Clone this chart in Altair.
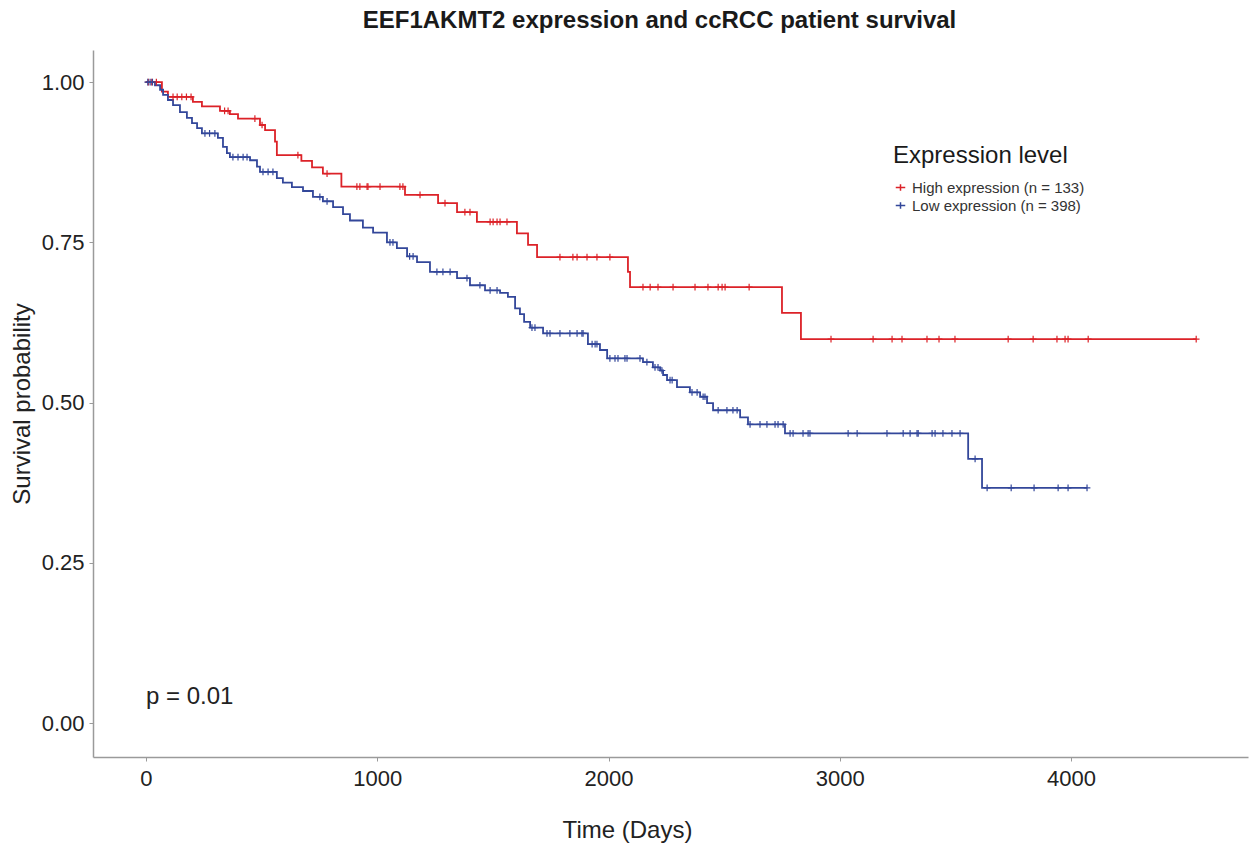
import altair as alt
import pandas as pd

HIGH = "High expression (n = 133)"
LOW = "Low expression (n = 398)"
RED = "#DC2228"
BLUE = "#33479A"
FONT = "Liberation Sans"

# Kaplan-Meier steps: (day of event, survival after event)
high_event_days = [69, 95, 203, 242, 320, 363, 398, 493, 515, 558, 566, 672, 718, 765, 845,
                   1120, 1263, 1345, 1431, 1604, 1652, 1691, 2084, 2093, 2750, 2832]
high_event_surv = [0.985, 0.977, 0.969, 0.962, 0.955, 0.950, 0.943, 0.933, 0.925, 0.907, 0.886,
                   0.877, 0.867, 0.857, 0.837, 0.824, 0.811, 0.797, 0.782, 0.764, 0.746, 0.727,
                   0.704, 0.680, 0.640, 0.599]
high_end_day = 4541
high_censor_days = [10, 25, 45, 117, 135, 155, 175, 195, 340, 355, 471, 502, 657, 783, 912, 925,
                    956, 960, 1012, 1098, 1111, 1185, 1293, 1379, 1401, 1488, 1501, 1518, 1531,
                    1561, 1790, 1846, 1864, 1907, 1950, 2006, 2149, 2180, 2214, 2279, 2374, 2430,
                    2474, 2491, 2504, 2608, 2962, 3144, 3226, 3269, 3377, 3429, 3498, 3728, 3836,
                    3939, 3974, 3987, 4074, 4541]

low_event_days = [39, 61, 74, 95, 117, 147, 177, 199, 221, 242, 311, 333, 350, 363, 450, 480,
                  493, 566, 592, 631, 679, 722, 765, 809, 852, 882, 938, 982, 1042, 1085, 1129,
                  1172, 1228, 1345, 1401, 1466, 1531, 1565, 1596, 1617, 1635, 1661, 1717, 1911,
                  1963, 1994, 2149, 2192, 2223, 2236, 2253, 2296, 2352, 2396, 2426, 2452, 2569,
                  2603, 2763, 3555, 3615]
low_event_surv = [0.995, 0.988, 0.980, 0.972, 0.964, 0.953, 0.944, 0.936, 0.928, 0.920, 0.913,
                  0.899, 0.889, 0.883, 0.878, 0.868, 0.860, 0.850, 0.843, 0.836, 0.830, 0.821,
                  0.814, 0.805, 0.794, 0.784, 0.773, 0.765, 0.750, 0.741, 0.728, 0.719, 0.704,
                  0.694, 0.683, 0.675, 0.671, 0.665, 0.647, 0.638, 0.626, 0.617, 0.608, 0.591,
                  0.582, 0.569, 0.563, 0.555, 0.550, 0.543, 0.535, 0.524, 0.516, 0.509, 0.499,
                  0.488, 0.477, 0.466, 0.452, 0.412, 0.367]
low_end_day = 4069
low_censor_days = [8, 18, 28, 255, 275, 298, 376, 398, 420, 437, 506, 528, 549, 752, 783, 1055,
                   1068, 1140, 1155, 1258, 1284, 1315, 1388, 1444, 1488, 1518, 1669, 1682, 1734,
                   1747, 1790, 1833, 1864, 1885, 1890, 1929, 1942, 1950, 2006, 2028, 2041, 2071,
                   2080, 2136, 2166, 2201, 2214, 2231, 2266, 2275, 2361, 2383, 2409, 2417, 2474,
                   2512, 2538, 2556, 2612, 2655, 2685, 2720, 2733, 2755, 2785, 2798, 2841, 2863,
                   2871, 3036, 3075, 3204, 3274, 3304, 3334, 3339, 3399, 3412, 3446, 3485, 3520,
                   3585, 3637, 3741, 3840, 3944, 3987, 4069]

x_ticks = [0, 1000, 2000, 3000, 4000]
y_ticks = [0.0, 0.25, 0.5, 0.75, 1.0]


def surv_at(t, days, surv):
    s = 1.0
    for d, v in zip(days, surv):
        if d <= t:
            s = v
    return s


def curve(name, days, surv, end):
    rows = [{"group": name, "time": 0, "surv": 1.0}]
    rows += [{"group": name, "time": d, "surv": v} for d, v in zip(days, surv)]
    rows.append({"group": name, "time": end, "surv": surv[-1]})
    return rows


def censors(name, cdays, days, surv):
    return [{"group": name, "time": c, "surv": surv_at(c, days, surv)} for c in cdays]


lines = pd.DataFrame(curve(HIGH, high_event_days, high_event_surv, high_end_day)
                     + curve(LOW, low_event_days, low_event_surv, low_end_day))
marks = pd.DataFrame(censors(HIGH, high_censor_days, high_event_days, high_event_surv)
                     + censors(LOW, low_censor_days, low_event_days, low_event_surv))

xscale = alt.Scale(domain=[-229, 4765], nice=False, zero=False)
yscale = alt.Scale(domain=[-0.053, 1.05], nice=False, zero=False)
cscale = alt.Scale(domain=[HIGH, LOW], range=[RED, BLUE])
color = alt.Color("group:N", scale=cscale,
                  legend=alt.Legend(title="Expression level", orient="none",
                                    legendX=800, legendY=94,
                                    titleFontSize=24, titleFont=FONT, titleFontWeight="normal",
                                    titleColor="#1a1a1a", titlePadding=12, titleLimit=0,
                                    labelFontSize=15, labelFont=FONT, labelColor="#333333",
                                    labelLimit=0,
                                    symbolType="M-1,0L1,0M0,-0.7L0,0.7",
                                    symbolSize=90, symbolStrokeWidth=1.5,
                                    rowPadding=2, labelOffset=4))

xaxis = alt.Axis(values=x_ticks, format="d", title="Time (Days)", grid=False,
                 labelFontSize=22, labelFont=FONT, labelColor="#222222",
                 titleFontSize=24, titleFont=FONT, titleFontWeight="normal", titleColor="#222222",
                 titleX=534, titleY=80, titleBaseline="alphabetic",
                 domainColor="#9a9a9a", domainWidth=1.5, tickColor="#9a9a9a", tickSize=4,
                 labelPadding=7)
yaxis = alt.Axis(values=y_ticks, format=".2f", title="Survival probability", grid=False,
                 labelFontSize=22, labelFont=FONT, labelColor="#222222",
                 titleFontSize=24, titleFont=FONT, titleFontWeight="normal", titleColor="#222222",
                 domainColor="#9a9a9a", domainWidth=1.5, tickColor="#9a9a9a", tickSize=4,
                 labelPadding=5, titlePadding=7)

line = alt.Chart(lines).mark_line(interpolate="step-after", strokeWidth=1.8).encode(
    x=alt.X("time:Q", scale=xscale, axis=xaxis),
    y=alt.Y("surv:Q", scale=yscale, axis=yaxis),
    color=color,
)

ticks = alt.Chart(marks).mark_point(shape="M-1,0L1,0M0,-1L0,1", size=45, filled=False,
                                    strokeWidth=1.2, opacity=1).encode(
    x=alt.X("time:Q", scale=xscale),
    y=alt.Y("surv:Q", scale=yscale),
    color=alt.Color("group:N", scale=cscale, legend=None),
)

ptext = alt.Chart(pd.DataFrame({"time": [0], "surv": [0.04], "label": ["p = 0.01"]})).mark_text(
    align="left", baseline="middle", fontSize=24, font=FONT, color="#222222").encode(
    x=alt.X("time:Q", scale=xscale),
    y=alt.Y("surv:Q", scale=yscale),
    text="label:N",
)

chart = alt.layer(line, ticks, ptext).properties(
    width=1155, height=707,
    background="white",
    title=alt.TitleParams("EEF1AKMT2 expression and ccRCC patient survival",
                          fontSize=24, fontWeight="bold", font=FONT, color="#1a1a1a",
                          anchor="middle", dx=-11, offset=17),
    autosize=alt.AutoSizeParams(type="none"),
    padding={"left": 93, "top": 50, "right": 2, "bottom": 91},
).configure_view(stroke=None)

chart.save("out.html", embed_options={"renderer": "svg", "actions": False})
